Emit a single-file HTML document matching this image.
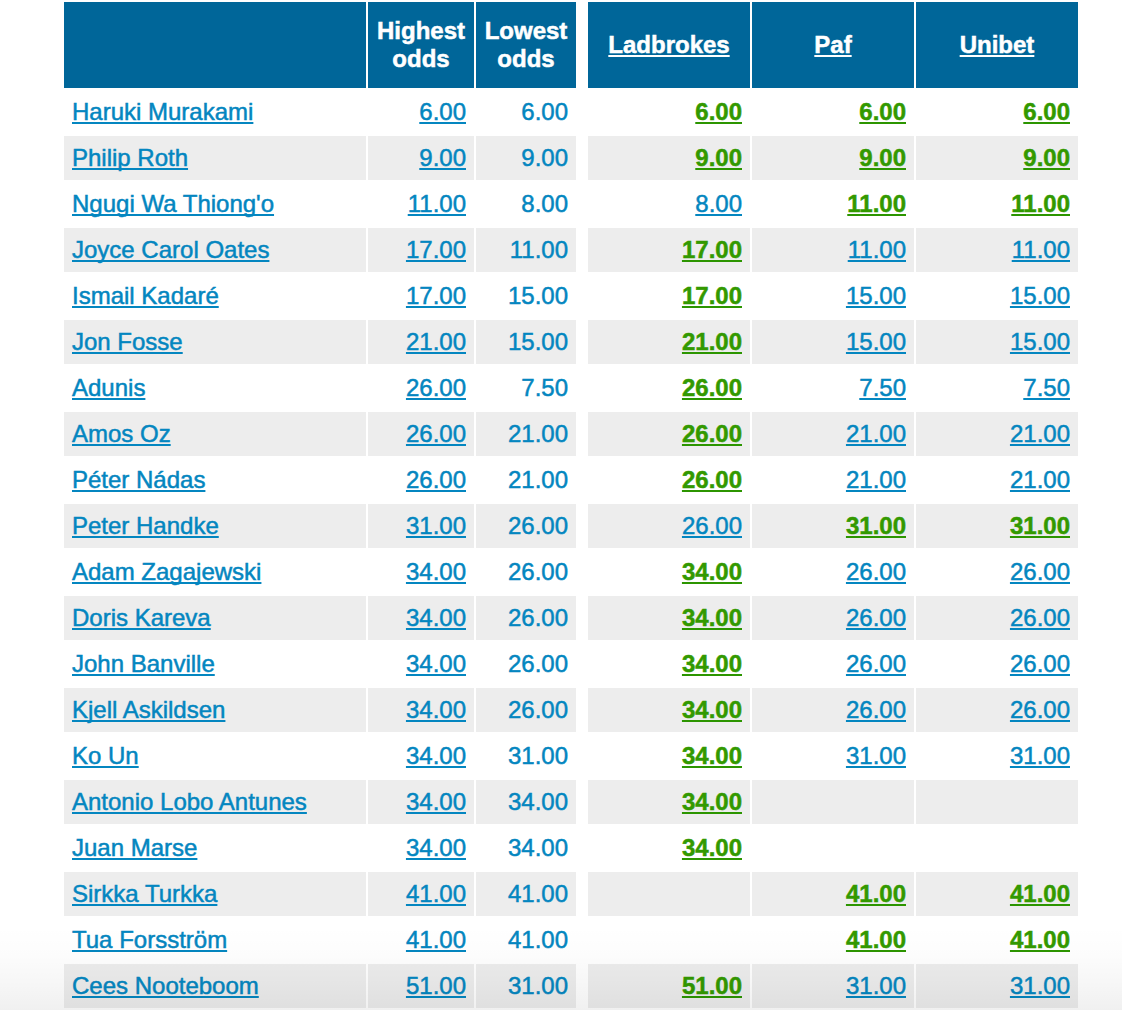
<!DOCTYPE html><html><head><meta charset="utf-8"><style>html,body{margin:0;padding:0;background:#fff;width:1122px;height:1010px;overflow:hidden;position:relative}
body{font-family:"Liberation Sans",sans-serif;font-size:24px}
table{position:absolute;left:62px;top:0;border-collapse:separate;border-spacing:2px;table-layout:fixed}
th,td{padding:0 8px;box-sizing:border-box;-webkit-text-stroke:0.5px currentColor}
tr.h th{background:#006699;color:#fff;font-weight:bold;height:86px;line-height:28px;text-align:center;vertical-align:middle}
tr.h a{color:#fff;text-decoration:underline;text-decoration-skip-ink:none}
td{height:44px;line-height:28px;vertical-align:middle;color:#0486c0}
tr.g td{background:#ededed}
td.sp,th.sp{background:#fff !important;padding:0}
.c1{width:302px}.c2{width:106px}.c3{width:100px}.sp{width:8px}.c4,.c5,.c6{width:162px}
td.n{text-align:left}
td.r{text-align:right}
a{color:#0486c0;text-decoration:underline;text-decoration-skip-ink:none}
a.best{color:#2c9500}
a.best b{color:#339900}
.fade{position:absolute;left:0;top:926px;width:1122px;height:84px;background:linear-gradient(to bottom,rgba(0,0,0,0) 0%,rgba(0,0,0,0.012) 35%,rgba(0,0,0,0.03) 65%,rgba(0,0,0,0.06) 100%);pointer-events:none}
</style></head><body>
<table>
<tr class="h"><th class="c1"></th><th class="c2">Highest<br>odds</th><th class="c3">Lowest<br>odds</th><th class="sp"></th><th class="c4"><a>Ladbrokes</a></th><th class="c5"><a>Paf</a></th><th class="c6"><a>Unibet</a></th></tr>
<tr class="w"><td class="n"><a>Haruki Murakami</a></td><td class="r"><a>6.00</a></td><td class="r lo">6.00</td><td class="sp"></td><td class="r"><a class="best"><b>6.00</b></a></td><td class="r"><a class="best"><b>6.00</b></a></td><td class="r"><a class="best"><b>6.00</b></a></td></tr>
<tr class="g"><td class="n"><a>Philip Roth</a></td><td class="r"><a>9.00</a></td><td class="r lo">9.00</td><td class="sp"></td><td class="r"><a class="best"><b>9.00</b></a></td><td class="r"><a class="best"><b>9.00</b></a></td><td class="r"><a class="best"><b>9.00</b></a></td></tr>
<tr class="w"><td class="n"><a>Ngugi Wa Thiong'o</a></td><td class="r"><a>11.00</a></td><td class="r lo">8.00</td><td class="sp"></td><td class="r"><a>8.00</a></td><td class="r"><a class="best"><b>11.00</b></a></td><td class="r"><a class="best"><b>11.00</b></a></td></tr>
<tr class="g"><td class="n"><a>Joyce Carol Oates</a></td><td class="r"><a>17.00</a></td><td class="r lo">11.00</td><td class="sp"></td><td class="r"><a class="best"><b>17.00</b></a></td><td class="r"><a>11.00</a></td><td class="r"><a>11.00</a></td></tr>
<tr class="w"><td class="n"><a>Ismail Kadaré</a></td><td class="r"><a>17.00</a></td><td class="r lo">15.00</td><td class="sp"></td><td class="r"><a class="best"><b>17.00</b></a></td><td class="r"><a>15.00</a></td><td class="r"><a>15.00</a></td></tr>
<tr class="g"><td class="n"><a>Jon Fosse</a></td><td class="r"><a>21.00</a></td><td class="r lo">15.00</td><td class="sp"></td><td class="r"><a class="best"><b>21.00</b></a></td><td class="r"><a>15.00</a></td><td class="r"><a>15.00</a></td></tr>
<tr class="w"><td class="n"><a>Adunis</a></td><td class="r"><a>26.00</a></td><td class="r lo">7.50</td><td class="sp"></td><td class="r"><a class="best"><b>26.00</b></a></td><td class="r"><a>7.50</a></td><td class="r"><a>7.50</a></td></tr>
<tr class="g"><td class="n"><a>Amos Oz</a></td><td class="r"><a>26.00</a></td><td class="r lo">21.00</td><td class="sp"></td><td class="r"><a class="best"><b>26.00</b></a></td><td class="r"><a>21.00</a></td><td class="r"><a>21.00</a></td></tr>
<tr class="w"><td class="n"><a>Péter Nádas</a></td><td class="r"><a>26.00</a></td><td class="r lo">21.00</td><td class="sp"></td><td class="r"><a class="best"><b>26.00</b></a></td><td class="r"><a>21.00</a></td><td class="r"><a>21.00</a></td></tr>
<tr class="g"><td class="n"><a>Peter Handke</a></td><td class="r"><a>31.00</a></td><td class="r lo">26.00</td><td class="sp"></td><td class="r"><a>26.00</a></td><td class="r"><a class="best"><b>31.00</b></a></td><td class="r"><a class="best"><b>31.00</b></a></td></tr>
<tr class="w"><td class="n"><a>Adam Zagajewski</a></td><td class="r"><a>34.00</a></td><td class="r lo">26.00</td><td class="sp"></td><td class="r"><a class="best"><b>34.00</b></a></td><td class="r"><a>26.00</a></td><td class="r"><a>26.00</a></td></tr>
<tr class="g"><td class="n"><a>Doris Kareva</a></td><td class="r"><a>34.00</a></td><td class="r lo">26.00</td><td class="sp"></td><td class="r"><a class="best"><b>34.00</b></a></td><td class="r"><a>26.00</a></td><td class="r"><a>26.00</a></td></tr>
<tr class="w"><td class="n"><a>John Banville</a></td><td class="r"><a>34.00</a></td><td class="r lo">26.00</td><td class="sp"></td><td class="r"><a class="best"><b>34.00</b></a></td><td class="r"><a>26.00</a></td><td class="r"><a>26.00</a></td></tr>
<tr class="g"><td class="n"><a>Kjell Askildsen</a></td><td class="r"><a>34.00</a></td><td class="r lo">26.00</td><td class="sp"></td><td class="r"><a class="best"><b>34.00</b></a></td><td class="r"><a>26.00</a></td><td class="r"><a>26.00</a></td></tr>
<tr class="w"><td class="n"><a>Ko Un</a></td><td class="r"><a>34.00</a></td><td class="r lo">31.00</td><td class="sp"></td><td class="r"><a class="best"><b>34.00</b></a></td><td class="r"><a>31.00</a></td><td class="r"><a>31.00</a></td></tr>
<tr class="g"><td class="n"><a>Antonio Lobo Antunes</a></td><td class="r"><a>34.00</a></td><td class="r lo">34.00</td><td class="sp"></td><td class="r"><a class="best"><b>34.00</b></a></td><td class="r"></td><td class="r"></td></tr>
<tr class="w"><td class="n"><a>Juan Marse</a></td><td class="r"><a>34.00</a></td><td class="r lo">34.00</td><td class="sp"></td><td class="r"><a class="best"><b>34.00</b></a></td><td class="r"></td><td class="r"></td></tr>
<tr class="g"><td class="n"><a>Sirkka Turkka</a></td><td class="r"><a>41.00</a></td><td class="r lo">41.00</td><td class="sp"></td><td class="r"></td><td class="r"><a class="best"><b>41.00</b></a></td><td class="r"><a class="best"><b>41.00</b></a></td></tr>
<tr class="w"><td class="n"><a>Tua Forsström</a></td><td class="r"><a>41.00</a></td><td class="r lo">41.00</td><td class="sp"></td><td class="r"></td><td class="r"><a class="best"><b>41.00</b></a></td><td class="r"><a class="best"><b>41.00</b></a></td></tr>
<tr class="g"><td class="n"><a>Cees Nooteboom</a></td><td class="r"><a>51.00</a></td><td class="r lo">31.00</td><td class="sp"></td><td class="r"><a class="best"><b>51.00</b></a></td><td class="r"><a>31.00</a></td><td class="r"><a>31.00</a></td></tr>
</table><div class="fade"></div></body></html>
